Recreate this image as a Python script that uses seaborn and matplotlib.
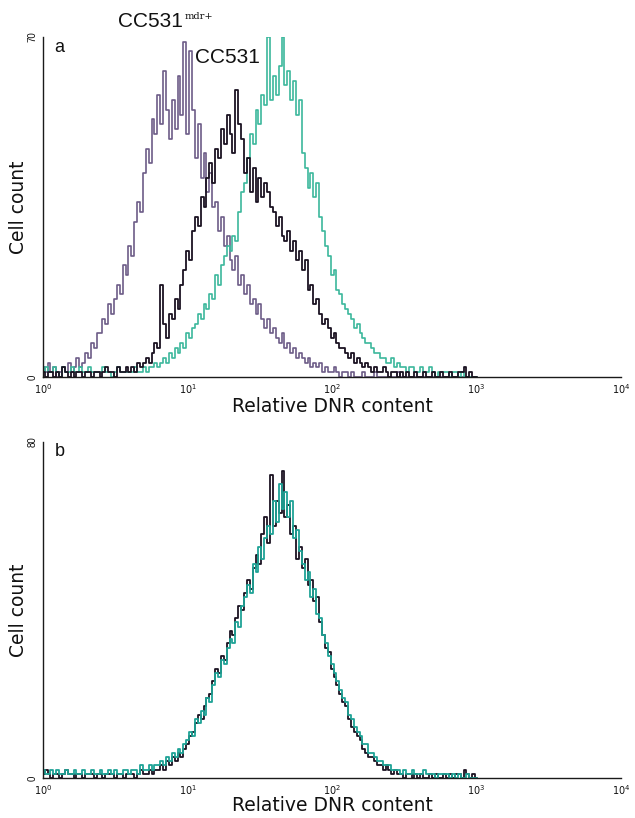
import numpy as np
import pandas as pd
import seaborn as sns
import matplotlib.pyplot as plt
from matplotlib.ticker import LogLocator, NullFormatter, FixedLocator, FixedFormatter

# channel positions (log10 of relative DNR content), 0.02 decade bins from 10^0 to 10^3
log_channel = np.round(np.arange(0, 3.001, 0.02), 2)
dnr = 10 ** log_channel

# panel a - cell counts per channel (rows of 0.2 decade)
mdr_a = [2, 1, 3, 1, 2, 0, 1, 2, 1, 3,
         1, 2, 4, 2, 3, 5, 4, 7, 6, 9,
         9, 12, 11, 15, 13, 16, 19, 17, 23, 21,
         27, 25, 32, 36, 34, 42, 47, 44, 53, 50,
         58, 52, 63, 55, 49, 57, 51, 62, 54, 69,
         50, 67, 55, 45, 52, 41, 46, 38, 42, 35,
         36, 30, 33, 27, 29, 24, 22, 25, 19, 21,
         17, 19, 15, 16, 13, 15, 12, 10, 12, 9,
         10, 8, 7, 9, 6, 7, 5, 6, 4, 5,
         4, 3, 4, 2, 3, 2, 3, 1, 2, 1,
         1, 2, 1, 0, 1, 1, 0, 1, 0, 0,
         0, 1, 0, 0, 0, 1, 0, 0, 0, 0,
         0, 0, 0, 1, 0, 0, 0, 0, 0, 0,
         0, 0, 0, 0, 0, 0, 0, 0, 0, 0,
         0, 0, 0, 0, 0, 0, 0, 0, 0, 0,
         0]
cc531_a = [1, 0, 1, 1, 0, 1, 0, 2, 1, 0,
           1, 0, 1, 1, 0, 1, 1, 0, 1, 1,
           0, 1, 2, 1, 1, 0, 2, 1, 1, 2,
           1, 2, 1, 3, 2, 3, 4, 3, 5, 7,
           6, 19, 11, 8, 13, 12, 16, 14, 19, 22,
           26, 24, 30, 33, 31, 37, 35, 41, 44, 40,
           47, 45, 51, 48, 54, 50, 46, 59, 52, 49,
           42, 45, 38, 43, 36, 41, 37, 40, 38, 35,
           34, 31, 33, 29, 28, 30, 26, 28, 24, 26,
           22, 24, 18, 19, 15, 16, 13, 11, 12, 10,
           8, 9, 7, 6, 6, 5, 4, 5, 3, 4,
           3, 2, 3, 2, 1, 2, 1, 1, 2, 1,
           0, 1, 1, 0, 1, 0, 1, 0, 0, 1,
           0, 0, 1, 0, 0, 1, 0, 0, 1, 0,
           0, 1, 0, 0, 1, 1, 2, 0, 1, 0,
           0]
teal_a = [1, 2, 1, 1, 2, 1, 0, 2, 1, 1,
          2, 1, 1, 2, 1, 1, 2, 1, 1, 1,
          1, 2, 1, 1, 0, 1, 2, 1, 1, 1,
          1, 1, 2, 1, 1, 2, 1, 2, 2, 3,
          2, 3, 4, 3, 5, 4, 6, 5, 7, 6,
          9, 8, 10, 11, 13, 12, 15, 14, 17, 16,
          21, 19, 23, 25, 27, 26, 29, 28, 34, 38,
          40, 45, 50, 48, 55, 52, 58, 56, 70, 57,
          62, 58, 64, 70, 60, 63, 57, 61, 54, 57,
          46, 43, 39, 42, 37, 40, 33, 30, 27, 25,
          21, 22, 18, 17, 15, 14, 13, 12, 10, 11,
          9, 8, 7, 7, 6, 5, 5, 4, 4, 3,
          3, 4, 2, 3, 2, 2, 1, 2, 2, 1,
          1, 2, 1, 1, 2, 1, 0, 1, 1, 1,
          1, 0, 1, 1, 0, 1, 0, 0, 0, 0,
          0]

# panel b
black_b = [1, 2, 1, 0, 1, 1, 0, 1, 2, 1,
           1, 0, 1, 1, 0, 1, 1, 1, 0, 1,
           1, 0, 1, 1, 1, 0, 1, 1, 0, 1,
           1, 1, 0, 1, 2, 1, 1, 2, 1, 2,
           2, 3, 2, 4, 3, 5, 4, 6, 5, 7,
           8, 10, 11, 13, 15, 14, 17, 19, 20, 23,
           26, 25, 29, 28, 32, 35, 34, 38, 41, 40,
           44, 47, 45, 50, 53, 51, 58, 62, 56, 72,
           60, 66, 63, 73, 62, 65, 58, 60, 52, 55,
           50, 52, 46, 47, 42, 43, 37, 34, 31, 30,
           26, 24, 22, 20, 18, 17, 14, 12, 11, 10,
           9, 7, 6, 5, 5, 4, 3, 3, 2, 3,
           2, 1, 2, 1, 1, 0, 1, 1, 0, 1,
           0, 1, 0, 0, 1, 0, 1, 0, 0, 1,
           0, 1, 0, 1, 1, 0, 2, 1, 0, 1,
           0]
teal_b = [2, 1, 1, 2, 1, 2, 1, 1, 2, 1,
          1, 2, 1, 1, 2, 1, 1, 2, 1, 1,
          2, 1, 1, 2, 1, 2, 1, 1, 2, 2,
          1, 2, 2, 1, 3, 2, 2, 3, 2, 3,
          3, 4, 3, 5, 4, 6, 5, 7, 6, 8,
          9, 11, 10, 14, 13, 16, 15, 19, 18, 22,
          25, 24, 28, 27, 31, 33, 32, 37, 36, 41,
          43, 46, 44, 51, 49, 55, 52, 57, 60, 58,
          66, 61, 70, 64, 68, 62, 66, 57, 59, 54,
          51, 47, 49, 43, 45, 39, 38, 34, 32, 29,
          27, 25, 23, 21, 19, 18, 15, 14, 12, 11,
          10, 8, 8, 6, 6, 5, 4, 4, 3, 3,
          3, 2, 2, 2, 1, 2, 1, 1, 2, 1,
          1, 1, 2, 1, 1, 1, 0, 1, 1, 1,
          1, 0, 1, 0, 1, 0, 0, 1, 0, 0,
          0]

decade_labels = ['$10^0$', '$10^1$', '$10^2$', '$10^3$', '$10^4$']

sns.set_style('white')
plt.rcParams['font.family'] = ['Liberation Sans', 'DejaVu Sans']
for key in ['text.color', 'axes.labelcolor', 'xtick.color', 'ytick.color']:
    plt.rcParams[key] = '#111111'

fig = plt.figure(figsize=(6.35, 8.18), dpi=100)
ax_a = fig.add_axes([0.068, 0.539, 0.910, 0.416])
ax_b = fig.add_axes([0.068, 0.049, 0.910, 0.411])


def style_axis(ax, ymax, letter, xlab_y):
    ax.set_xscale('log')
    ax.set_xlim(1, 1e4)
    ax.set_ylim(0, ymax)
    sns.despine(ax=ax)
    for s in ['left', 'bottom']:
        ax.spines[s].set_linewidth(1.0)
        ax.spines[s].set_color('#1a1a1a')
    ax.xaxis.set_major_locator(FixedLocator([1, 10, 100, 1000, 10000]))
    ax.xaxis.set_major_formatter(FixedFormatter(decade_labels))
    ax.xaxis.set_minor_locator(LogLocator(base=10, subs=np.arange(2, 10)))
    ax.xaxis.set_minor_formatter(NullFormatter())
    ax.tick_params(axis='x', which='major', direction='inout', length=5, width=0.8,
                   labelsize=7, pad=1)
    ax.tick_params(axis='x', which='minor', direction='in', length=2.5, width=0.7)
    yt = np.linspace(0, ymax, 11)
    ax.set_yticks(yt)
    ax.set_yticklabels(['0'] + [''] * 9 + [str(ymax)], rotation=90, va='center')
    ax.tick_params(axis='y', direction='out', length=3, width=0.8, labelsize=7, pad=1)
    ax.set_xlabel('Relative DNR content', fontsize=13.5, family='DejaVu Sans', va='center')
    ax.xaxis.set_label_coords(0.5, xlab_y)
    ax.set_ylabel('Cell count', fontsize=13.5, family='DejaVu Sans', va='center')
    ax.yaxis.set_label_coords(-0.042, 0.5)
    ax.text(0.02, 0.995, letter, transform=ax.transAxes, fontsize=13, va='top')


# panel a
sns.lineplot(x=dnr, y=mdr_a, ax=ax_a, color='#6d5c87', lw=1.2, drawstyle='steps-mid', estimator=None)
sns.lineplot(x=dnr, y=teal_a, ax=ax_a, color='#3cb89c', lw=1.2, drawstyle='steps-mid', estimator=None)
sns.lineplot(x=dnr, y=cc531_a, ax=ax_a, color='#1b1322', lw=1.3, drawstyle='steps-mid', estimator=None)
style_axis(ax_a, 70, 'a', -0.085)
ax_a.text(0.13, 1.044, 'CC531', transform=ax_a.transAxes, fontsize=15, va='center')
ax_a.text(0.245, 1.06, 'mdr+', transform=ax_a.transAxes, fontsize=7, va='center', family='DejaVu Serif')
ax_a.text(0.262, 0.938, 'CC531', transform=ax_a.transAxes, fontsize=15, va='center')

# panel b
sns.lineplot(x=dnr, y=black_b, ax=ax_b, color='#1b1322', lw=1.3, drawstyle='steps-mid', estimator=None)
sns.lineplot(x=dnr, y=teal_b, ax=ax_b, color='#1fa396', lw=1.3, drawstyle='steps-mid', estimator=None)
style_axis(ax_b, 80, 'b', -0.083)

fig.savefig('out.png', dpi=100)
